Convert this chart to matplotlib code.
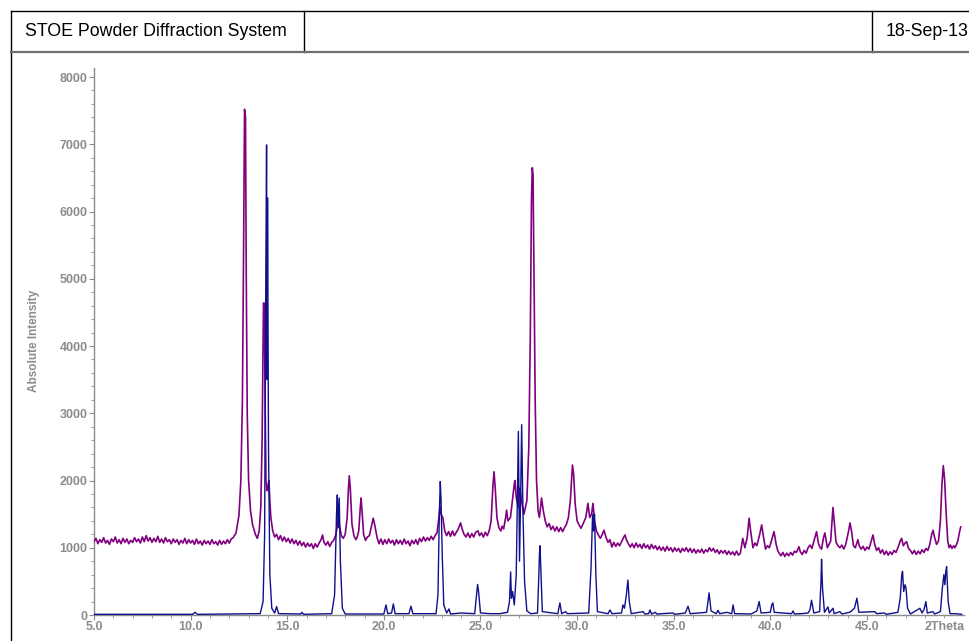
import matplotlib
matplotlib.use("Agg")
import matplotlib.pyplot as plt
from matplotlib.lines import Line2D

plt.rcParams['font.family'] = ['Liberation Sans', 'DejaVu Sans']

measured = [
    (5.0, 1090), (5.1, 1140), (5.2, 1060), (5.3, 1120), (5.4, 1080), (5.5, 1150),
    (5.6, 1070), (5.7, 1110), (5.8, 1050), (5.9, 1130), (6.0, 1090), (6.1, 1160),
    (6.2, 1070), (6.3, 1120), (6.4, 1060), (6.5, 1140), (6.6, 1080), (6.7, 1130),
    (6.8, 1060), (6.9, 1110), (7.0, 1080), (7.1, 1150), (7.2, 1090), (7.3, 1130),
    (7.4, 1070), (7.5, 1160), (7.6, 1090), (7.7, 1180), (7.8, 1100), (7.9, 1150),
    (8.0, 1080), (8.1, 1140), (8.2, 1090), (8.3, 1170), (8.4, 1080), (8.5, 1130),
    (8.6, 1070), (8.7, 1150), (8.8, 1090), (8.9, 1120), (9.0, 1060), (9.1, 1130),
    (9.2, 1080), (9.3, 1120), (9.4, 1050), (9.5, 1110), (9.6, 1070), (9.7, 1140),
    (9.8, 1060), (9.9, 1120), (10.0, 1070), (10.1, 1110), (10.2, 1050), (10.3, 1130),
    (10.4, 1060), (10.5, 1100), (10.6, 1040), (10.7, 1110), (10.8, 1060), (10.9, 1100),
    (11.0, 1050), (11.1, 1120), (11.2, 1060), (11.3, 1090), (11.4, 1040), (11.5, 1110),
    (11.6, 1050), (11.7, 1100), (11.8, 1060), (11.9, 1120), (12.0, 1070), (12.1, 1130),
    (12.2, 1150), (12.35, 1220), (12.5, 1480), (12.6, 2000), (12.68, 3200), (12.74, 5400),
    (12.79, 7520), (12.84, 7400), (12.88, 5000), (12.93, 3000), (13.0, 2000), (13.1, 1550),
    (13.2, 1350), (13.35, 1200), (13.45, 1140), (13.55, 1250), (13.63, 1600), (13.7, 2600),
    (13.75, 4100), (13.77, 4640), (13.8, 4640), (13.83, 4100), (13.86, 3000), (13.9, 2000),
    (13.95, 1850), (14.0, 1900), (14.05, 2000), (14.1, 1700), (14.15, 1450), (14.25, 1250),
    (14.35, 1160), (14.45, 1200), (14.55, 1120), (14.65, 1180), (14.75, 1100), (14.85, 1160),
    (14.95, 1090), (15.05, 1140), (15.15, 1070), (15.25, 1130), (15.35, 1060), (15.45, 1110),
    (15.55, 1040), (15.65, 1100), (15.75, 1030), (15.85, 1080), (15.95, 1010), (16.05, 1070),
    (16.15, 1020), (16.25, 1060), (16.35, 990), (16.45, 1060), (16.55, 1010), (16.65, 1070),
    (16.75, 1120), (16.83, 1190), (16.9, 1080), (17.0, 1040), (17.1, 1090), (17.2, 1020),
    (17.3, 1080), (17.4, 1110), (17.5, 1180), (17.58, 1300), (17.64, 1460), (17.72, 1300),
    (17.8, 1180), (17.9, 1140), (18.0, 1200), (18.1, 1450), (18.17, 1900), (18.21, 2070),
    (18.26, 1900), (18.35, 1350), (18.45, 1180), (18.55, 1120), (18.62, 1160), (18.7, 1250),
    (18.78, 1600), (18.82, 1740), (18.87, 1550), (18.95, 1200), (19.05, 1110), (19.15, 1160),
    (19.25, 1180), (19.38, 1350), (19.45, 1440), (19.52, 1350), (19.65, 1150), (19.75, 1060),
    (19.85, 1130), (19.95, 1050), (20.05, 1120), (20.15, 1060), (20.25, 1130), (20.35, 1070),
    (20.45, 1110), (20.55, 1040), (20.65, 1120), (20.75, 1060), (20.85, 1110), (20.95, 1050),
    (21.05, 1130), (21.15, 1060), (21.25, 1100), (21.35, 1030), (21.45, 1110), (21.55, 1060),
    (21.65, 1120), (21.75, 1050), (21.85, 1140), (21.95, 1090), (22.05, 1160), (22.15, 1100),
    (22.25, 1150), (22.35, 1110), (22.45, 1170), (22.55, 1120), (22.65, 1180), (22.75, 1220),
    (22.85, 1450), (22.9, 1610), (22.95, 1500), (23.05, 1450), (23.15, 1250), (23.25, 1180),
    (23.35, 1240), (23.45, 1170), (23.55, 1250), (23.65, 1180), (23.75, 1230), (23.85, 1280),
    (23.97, 1370), (24.05, 1280), (24.15, 1200), (24.25, 1160), (24.35, 1220), (24.45, 1150),
    (24.55, 1210), (24.65, 1160), (24.75, 1230), (24.87, 1250), (24.95, 1180), (25.05, 1220),
    (25.15, 1160), (25.25, 1230), (25.35, 1180), (25.45, 1250), (25.55, 1400), (25.64, 1900),
    (25.7, 2130), (25.76, 1900), (25.85, 1450), (25.95, 1300), (26.05, 1250), (26.12, 1320),
    (26.2, 1280), (26.3, 1450), (26.35, 1560), (26.42, 1400), (26.55, 1450), (26.65, 1700),
    (26.75, 1950), (26.78, 2000), (26.85, 1750), (26.95, 1600), (27.04, 1890), (27.12, 1700),
    (27.25, 1500), (27.4, 1700), (27.5, 2500), (27.58, 4200), (27.64, 6200), (27.68, 6650),
    (27.72, 6550), (27.77, 5000), (27.83, 3200), (27.9, 2000), (27.98, 1550), (28.05, 1450),
    (28.16, 1740), (28.25, 1550), (28.35, 1400), (28.45, 1310), (28.55, 1360), (28.65, 1270),
    (28.75, 1320), (28.85, 1250), (28.95, 1310), (29.05, 1240), (29.15, 1300), (29.25, 1240),
    (29.35, 1300), (29.45, 1350), (29.55, 1450), (29.65, 1700), (29.76, 2230), (29.82, 2100),
    (29.9, 1650), (30.0, 1400), (30.1, 1340), (30.2, 1290), (30.3, 1350), (30.45, 1450),
    (30.56, 1660), (30.65, 1450), (30.75, 1500), (30.82, 1660), (30.9, 1400), (31.0, 1250),
    (31.1, 1190), (31.2, 1140), (31.3, 1200), (31.39, 1260), (31.5, 1150), (31.6, 1080),
    (31.7, 1120), (31.8, 1010), (31.9, 1080), (32.0, 1020), (32.1, 1070), (32.2, 1030),
    (32.3, 1090), (32.4, 1150), (32.48, 1190), (32.55, 1120), (32.65, 1060), (32.75, 1010),
    (32.85, 1060), (32.95, 1000), (33.05, 1070), (33.15, 1010), (33.25, 1050), (33.35, 990),
    (33.45, 1060), (33.55, 1000), (33.65, 1040), (33.75, 980), (33.85, 1050), (33.95, 990),
    (34.05, 1030), (34.15, 970), (34.25, 1020), (34.35, 960), (34.45, 1010), (34.55, 950),
    (34.65, 1020), (34.75, 960), (34.85, 1000), (34.95, 940), (35.05, 1000), (35.15, 950),
    (35.25, 990), (35.35, 930), (35.45, 990), (35.55, 950), (35.65, 1000), (35.75, 940),
    (35.85, 990), (35.95, 930), (36.05, 980), (36.15, 920), (36.25, 970), (36.35, 930),
    (36.45, 980), (36.55, 920), (36.65, 970), (36.75, 940), (36.85, 1000), (36.95, 950),
    (37.05, 990), (37.15, 930), (37.25, 970), (37.35, 910), (37.45, 960), (37.55, 920),
    (37.65, 960), (37.75, 900), (37.85, 950), (37.95, 900), (38.05, 940), (38.15, 890),
    (38.25, 950), (38.35, 890), (38.45, 920), (38.57, 1140), (38.68, 1000), (38.8, 1150),
    (38.9, 1440), (38.98, 1250), (39.1, 1000), (39.2, 1070), (39.3, 1030), (39.45, 1200),
    (39.55, 1340), (39.65, 1150), (39.75, 980), (39.85, 1030), (39.95, 1000), (40.1, 1150),
    (40.19, 1240), (40.3, 1050), (40.38, 960), (40.45, 920), (40.55, 880), (40.65, 930),
    (40.75, 870), (40.85, 920), (40.95, 880), (41.05, 930), (41.15, 890), (41.25, 950),
    (41.35, 930), (41.48, 1015), (41.55, 940), (41.65, 900), (41.75, 960), (41.85, 920),
    (41.95, 1000), (42.05, 1040), (42.15, 990), (42.3, 1150), (42.39, 1240), (42.5, 1050),
    (42.58, 1000), (42.65, 980), (42.75, 1150), (42.82, 1220), (42.95, 1000), (43.05, 1060),
    (43.12, 1100), (43.2, 1450), (43.24, 1600), (43.3, 1400), (43.4, 1080), (43.5, 1030),
    (43.6, 1000), (43.7, 1040), (43.8, 980), (43.9, 1050), (44.05, 1250), (44.12, 1370),
    (44.2, 1250), (44.3, 1030), (44.4, 1000), (44.45, 1050), (44.53, 1120), (44.6, 1030),
    (44.7, 980), (44.8, 1020), (44.9, 960), (45.0, 1010), (45.1, 980), (45.22, 1100),
    (45.31, 1190), (45.4, 1050), (45.5, 960), (45.6, 1000), (45.7, 920), (45.8, 970),
    (45.9, 900), (46.0, 950), (46.1, 890), (46.2, 940), (46.3, 900), (46.4, 960),
    (46.5, 930), (46.6, 1000), (46.72, 1100), (46.79, 1140), (46.88, 1030), (46.97, 1070),
    (47.05, 1090), (47.15, 990), (47.25, 960), (47.35, 910), (47.45, 960), (47.55, 900),
    (47.65, 950), (47.75, 910), (47.85, 970), (47.95, 930), (48.05, 990), (48.15, 960),
    (48.25, 1050), (48.35, 1200), (48.42, 1260), (48.5, 1150), (48.6, 1050), (48.7, 1100),
    (48.8, 1400), (48.88, 1950), (48.95, 2220), (49.02, 2000), (49.1, 1500), (49.18, 1100),
    (49.25, 1000), (49.32, 1040), (49.4, 990), (49.48, 1030), (49.55, 1000), (49.62, 1040),
    (49.7, 1100), (49.8, 1250), (49.85, 1310),
]

# reference pattern (blue) as (2theta, counts)
reference = [
    (5.0, 10), (10.1, 10), (10.23, 40), (10.35, 10), (13.6, 20), (13.75, 200),
    (13.83, 1200), (13.88, 4500), (13.93, 6990), (13.96, 3500), (13.98, 6200), (14.03, 2500),
    (14.1, 600), (14.2, 100), (14.35, 30), (14.45, 125), (14.55, 20), (15.7, 15),
    (15.75, 40), (15.85, 10), (17.3, 20), (17.45, 300), (17.55, 1500), (17.59, 1785),
    (17.64, 1300), (17.69, 1740), (17.75, 800), (17.85, 100), (18.0, 15), (20.0, 15),
    (20.11, 150), (20.2, 20), (20.4, 30), (20.49, 165), (20.58, 20), (21.3, 20),
    (21.4, 130), (21.5, 20), (22.7, 20), (22.8, 300), (22.87, 1500), (22.92, 1985),
    (22.96, 1700), (23.02, 900), (23.1, 150), (23.25, 30), (23.37, 90), (23.45, 15),
    (23.99, 30), (24.7, 20), (24.8, 300), (24.85, 455), (24.9, 350), (25.0, 30),
    (25.5, 20), (26.0, 20), (26.4, 40), (26.5, 200), (26.56, 640), (26.6, 250),
    (26.66, 350), (26.75, 150), (26.85, 600), (26.96, 2730), (27.02, 800), (27.08, 1800),
    (27.13, 2830), (27.2, 1500), (27.28, 500), (27.4, 60), (27.6, 20), (27.95, 30),
    (28.02, 600), (28.05, 900), (28.08, 1030), (28.12, 700), (28.2, 50), (29.0, 20),
    (29.11, 180), (29.2, 20), (29.4, 50), (29.5, 20), (30.6, 30), (30.72, 700),
    (30.8, 1490), (30.85, 1250), (30.9, 1500), (30.97, 600), (31.05, 50), (31.6, 20),
    (31.7, 75), (31.8, 20), (32.3, 30), (32.37, 150), (32.45, 100), (32.55, 300),
    (32.63, 520), (32.7, 200), (32.8, 20), (33.42, 50), (33.5, 15), (33.7, 20),
    (33.77, 75), (33.85, 15), (34.05, 40), (34.12, 15), (34.96, 30), (35.05, 10),
    (35.6, 30), (35.74, 130), (35.85, 20), (36.7, 40), (36.83, 330), (36.93, 60),
    (37.2, 20), (37.29, 70), (37.38, 20), (37.75, 40), (38.0, 20), (38.07, 150),
    (38.15, 20), (39.0, 15), (39.1, 30), (39.3, 60), (39.42, 200), (39.52, 30),
    (40.0, 40), (40.07, 150), (40.13, 180), (40.2, 40), (41.1, 20), (41.17, 60),
    (41.25, 15), (41.6, 20), (41.95, 30), (42.05, 80), (42.13, 220), (42.25, 30),
    (42.55, 50), (42.62, 500), (42.65, 830), (42.7, 400), (42.8, 40), (42.98, 120),
    (43.05, 30), (43.24, 100), (43.3, 20), (43.6, 50), (43.7, 15), (44.1, 40),
    (44.2, 60), (44.35, 100), (44.48, 250), (44.58, 40), (45.4, 50), (45.5, 20),
    (45.9, 30), (46.0, 10), (46.6, 40), (46.72, 250), (46.8, 600), (46.84, 650),
    (46.9, 350), (46.97, 450), (47.02, 400), (47.1, 100), (47.25, 15), (47.74, 100),
    (47.85, 30), (47.95, 80), (48.05, 200), (48.12, 30), (48.41, 50), (48.5, 15),
    (48.8, 50), (48.9, 400), (48.98, 600), (49.03, 450), (49.08, 650), (49.12, 720),
    (49.2, 200), (49.3, 20), (49.6, 20), (49.9, 10),
]

meas_2theta = [p[0] for p in measured]
meas_counts = [p[1] for p in measured]
ref_2theta = [p[0] for p in reference]
ref_counts = [p[1] for p in reference]

x_ticks = [5.0, 10.0, 15.0, 20.0, 25.0, 30.0, 35.0, 40.0, 45.0]
y_ticks = [0, 1000, 2000, 3000, 4000, 5000, 6000, 7000, 8000]

W, H = 969, 641
fig = plt.figure(figsize=(W / 100, H / 100), dpi=100)
fig.patch.set_facecolor('white')


def fx(px):
    return px / W


def fy(py):
    return 1 - py / H


# header frame
frame = dict(color='black', lw=1.0)
fig.add_artist(Line2D([fx(11), 1.0], [fy(11), fy(11)], **frame))
fig.add_artist(Line2D([fx(11), fx(11)], [fy(11), 0.0], **frame))
fig.add_artist(Line2D([fx(304), fx(304)], [fy(11), fy(52)], **frame))
fig.add_artist(Line2D([fx(872), fx(872)], [fy(11), fy(52)], **frame))
fig.add_artist(Line2D([fx(11), 1.0], [fy(52), fy(52)], color='#707070', lw=1.6))
fig.text(fx(25), fy(32), 'STOE Powder Diffraction System', fontsize=12.8,
         va='center', ha='left', color='black')
fig.text(fx(886), fy(32), '18-Sep-13', fontsize=12.8, va='center', ha='left',
         color='black')

ax = fig.add_axes([fx(94), fy(615), fx(963.6) - fx(94), fy(68) - fy(615)])
ax.plot(meas_2theta, meas_counts, color='#800080', lw=1.2, zorder=3)
ax.plot(ref_2theta, ref_counts, color='#10108c', lw=1.0, zorder=4)

ax.set_xlim(5, 50)
ax.set_ylim(0, 8134)
for s in ['top', 'right']:
    ax.spines[s].set_visible(False)
grey = '#8c8c8c'
for s in ['left', 'bottom']:
    ax.spines[s].set_color(grey)
    ax.spines[s].set_linewidth(1.0)

ax.set_xticks(x_ticks)
ax.set_xticklabels(['%.1f' % v for v in x_ticks])
ax.set_xticks([v + 0.0 for v in range(6, 50) if v % 5 != 0], minor=True)
ax.set_yticks(y_ticks)
ax.set_yticks([v for v in range(200, 8001, 200) if v % 1000 != 0], minor=True)
ax.tick_params(which='major', length=3.6, color=grey, labelcolor=grey,
               labelsize=9, pad=1.0)
ax.tick_params(which='minor', length=2.2, color=grey)
for lab in ax.get_xticklabels() + ax.get_yticklabels():
    lab.set_fontweight('bold')

ax.annotate('2Theta', xy=(50.05, 0), xycoords=('data', 'axes fraction'),
            xytext=(0, -4.6), textcoords='offset points', ha='right', va='top',
            fontsize=9, fontweight='bold', color=grey, annotation_clip=False)

ax.set_ylabel('Absolute Intensity', fontsize=8.5, color=grey, fontweight='bold')
ax.yaxis.set_label_coords(-(94 - 40) / (963.6 - 94), (615 - 341) / (615 - 68))

fig.savefig('out.png', dpi=100)
